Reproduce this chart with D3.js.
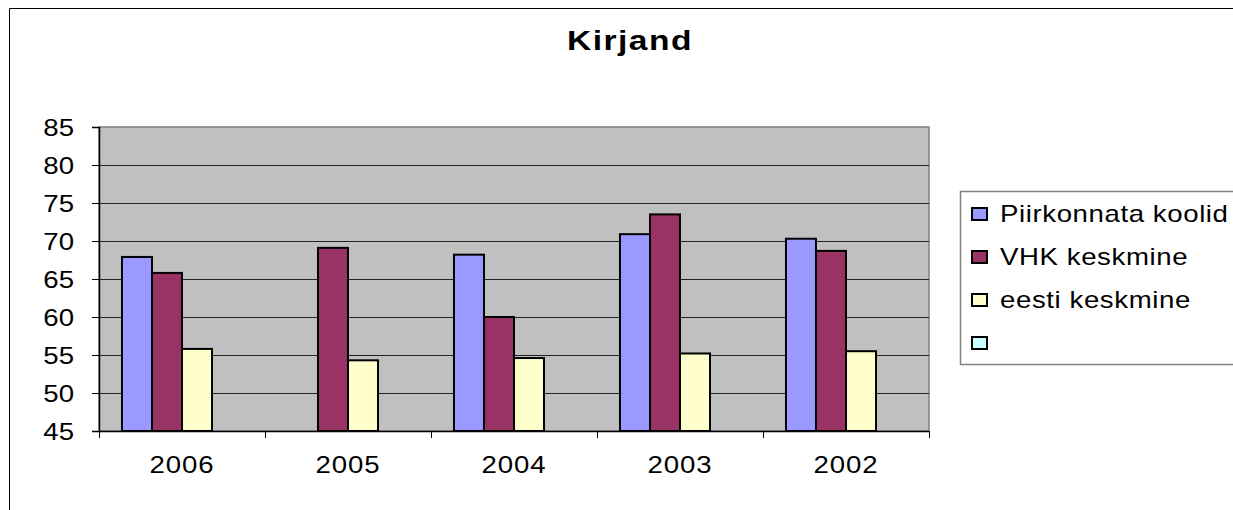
<!DOCTYPE html>
<html>
<head>
<meta charset="utf-8">
<script src="https://cdn.jsdelivr.net/npm/d3@7"></script>
<style>
  html, body { margin: 0; padding: 0; background: #fff; }
  svg { display: block; font-family: "Liberation Sans", Arial, sans-serif; }
</style>
</head>
<body>
<svg id="chart" width="1233" height="510"></svg>
<script>
// chart data
const title = 'Kirjand';
const years = ['2006', '2005', '2004', '2003', '2002'];
const seriesNames = ['Piirkonnata koolid', 'VHK keskmine', 'eesti keskmine', ''];
const piirkonnata = [67.9, null, 68.2, 70.9, 70.3];
const vhk = [65.8, 69.1, 60.0, 73.5, 68.7];
const eesti = [55.8, 54.3, 54.6, 55.2, 55.5];
const empty = [null, null, null, null, null];
const yTicks = [45, 50, 55, 60, 65, 70, 75, 80, 85];
const colors = ['#9999ff', '#993366', '#ffffcc', '#ccffff'];

const allSeries = [piirkonnata, vhk, eesti, empty];

// the original text is drawn wide, so stretch it horizontally
const stretch = 1.2;

const svg = d3.select('#chart');
const plot = { left: 99, right: 929, top: 127, bottom: 431 };

// outer chart frame (runs off the picture on the right and bottom)
svg.append('path')
  .attr('d', 'M9.5,520 L9.5,8.5 L1240,8.5')
  .attr('fill', 'none')
  .attr('stroke', '#000');

svg.append('text')
  .attr('transform', `translate(630,50) scale(${stretch},1)`)
  .attr('text-anchor', 'middle')
  .attr('font-size', 28)
  .attr('font-weight', 'bold')
  .attr('letter-spacing', 1.2)
  .text(title);

const x0 = d3.scaleBand()
  .domain(years)
  .range([plot.left, plot.right])
  .paddingInner(0.277)
  .paddingOuter(0.1385);

const x1 = d3.scaleBand()
  .domain(d3.range(seriesNames.length))
  .range([0, x0.bandwidth()]);

const y = d3.scaleLinear()
  .domain([45, 85])
  .range([plot.bottom, plot.top]);

// plot background
svg.append('rect')
  .attr('x', plot.left)
  .attr('y', plot.top)
  .attr('width', plot.right - plot.left)
  .attr('height', plot.bottom - plot.top)
  .attr('fill', '#c0c0c0')
  .attr('stroke', '#808080')
  .attr('stroke-width', 1.5);

// gridlines
svg.append('g')
  .selectAll('line')
  .data(yTicks.filter(t => t > 45 && t < 85))
  .enter()
  .append('line')
  .attr('x1', plot.left)
  .attr('x2', plot.right)
  .attr('y1', d => Math.round(y(d)) + 0.5)
  .attr('y2', d => Math.round(y(d)) + 0.5)
  .attr('stroke', '#222')
  .attr('stroke-width', 1.2);

// bars
const step = x0.step();
years.forEach((yr, i) => {
  const g = svg.append('g').attr('transform', `translate(${x0(yr)},0)`);
  allSeries.forEach((s, k) => {
    if (s[i] == null) return;
    g.append('rect')
      .attr('x', x1(k))
      .attr('y', y(s[i]))
      .attr('width', x1.bandwidth())
      .attr('height', y(45) - y(s[i]))
      .attr('fill', colors[k])
      .attr('stroke', '#000')
      .attr('stroke-width', 2);
  });
});

// y axis
const yAxis = svg.append('g')
  .attr('transform', `translate(${plot.left},0)`)
  .call(d3.axisLeft(y).tickValues(yTicks).tickSize(7));
yAxis.select('.domain').attr('stroke', '#000').attr('stroke-width', 1.5);
yAxis.selectAll('.tick line').attr('stroke', '#000');
yAxis.selectAll('.tick text')
  .attr('x', -25 / stretch)
  .attr('transform', `scale(${stretch},1)`)
  .attr('font-size', 23)
  .attr('dy', '0.35em')
  .attr('fill', '#000')
  .attr('font-family', '"Liberation Sans", Arial, sans-serif');

// x axis: tick marks at category boundaries
const bounds = years.map(yr => x0(yr) - (step - x0.bandwidth()) / 2).concat([plot.right]);
svg.append('line')
  .attr('x1', plot.left).attr('x2', plot.right)
  .attr('y1', plot.bottom + 0.5).attr('y2', plot.bottom + 0.5)
  .attr('stroke', '#000').attr('stroke-width', 1.5);
svg.append('g')
  .selectAll('line')
  .data(bounds)
  .enter()
  .append('line')
  .attr('x1', d => Math.round(d) + 0.5)
  .attr('x2', d => Math.round(d) + 0.5)
  .attr('y1', plot.bottom)
  .attr('y2', plot.bottom + 7)
  .attr('stroke', '#000');
svg.append('g')
  .selectAll('text')
  .data(years)
  .enter()
  .append('text')
  .attr('transform', d => `translate(${x0(d) + x0.bandwidth() / 2},473) scale(${stretch},1)`)
  .attr('text-anchor', 'middle')
  .attr('font-size', 23)
  .attr('letter-spacing', 0.8)
  .text(d => d);

// legend
const legend = svg.append('g').attr('transform', 'translate(960,191)');
legend.append('rect')
  .attr('x', 0.5).attr('y', 0.5)
  .attr('width', 300).attr('height', 173)
  .attr('fill', '#fff')
  .attr('stroke', '#808080')
  .attr('stroke-width', 1.5);
seriesNames.forEach((name, k) => {
  const ly = 23 + k * 43;
  legend.append('rect')
    .attr('x', 12).attr('y', ly - 6)
    .attr('width', 15).attr('height', 12)
    .attr('fill', colors[k])
    .attr('stroke', '#000')
    .attr('stroke-width', 2);
  legend.append('text')
    .attr('transform', `translate(40,${ly + 8}) scale(${stretch},1)`)
    .attr('font-size', 23)
    .attr('letter-spacing', 0.5)
    .text(name);
});
</script>
</body>
</html>
